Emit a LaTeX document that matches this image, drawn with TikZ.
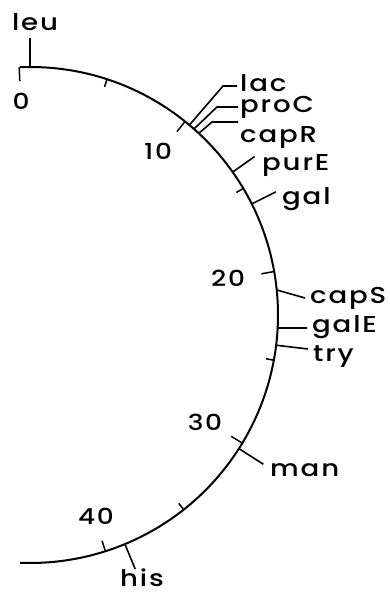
\documentclass[tikz,border=0pt]{standalone}
\usepackage{fontspec}
\setmainfont{Poppins Medium}[FakeStretch=1.2, LetterSpace=8]
\begin{document}
\begin{tikzpicture}[x=1pt,y=-1pt,
  arcline/.style={line width=2pt},
  tickline/.style={line width=1.5pt},
  geneline/.style={line width=1.6pt},
  lbl/.style={font=\fontsize{23}{23}\selectfont, inner sep=0pt, anchor=base west},
  num/.style={font=\fontsize{22}{22}\selectfont, inner sep=0pt, anchor=base}]
\useasboundingbox (0,0) rectangle (390,594);
\coordinate (C) at (30,315);
\def\R{248}
% arc
\draw[arcline] ([shift={(C)}]-92.3:\R) arc[start angle=-92.3, end angle=92.3, radius=\R];
% ticks: angle theta = -2.5 + 4.12 d, polar angle = theta - 90
\foreach \d/\len in {0/14,5/8,10/13,15/8,20/13,25/8,30/13,35/8,40/11}{
  \pgfmathsetmacro{\a}{-2.5+4.12*\d-90}
  \draw[tickline] ([shift={(C)}]\a:\R) -- ([shift={(C)}]\a:{\R-\len});
}
% number labels
\node[num] (n0) at (21,109) {0};
\node[num] (n10) at (158,159) {10};
\node[num] (n20) at (228,286) {20};
\node[num] (n30) at (205,430) {30};
\node[num] (n40) at (96,524) {40};
% gene labels
\node[lbl, anchor=base] (leu) at (35,31) {leu};
\node[lbl] (lac) at (240,91) {lac};
\node[lbl] (proC) at (240,112) {proC};
\node[lbl] (capR) at (240,142) {capR};
\node[lbl] (purE) at (262,170) {purE};
\node[lbl] (gal) at (282,204) {gal};
\node[lbl] (capS) at (310,303) {capS};
\node[lbl] (galE) at (312,332) {galE};
\node[lbl] (try) at (313,361) {try};
\node[lbl] (man) at (270,476) {man};
\node[lbl, anchor=base] (his) at (142,586) {his};
% gene connectors
\coordinate (pleu) at ([shift={(C)}]-90:\R);
\coordinate (plac) at ([shift={(C)}]-50:\R);
\coordinate (pproC) at ([shift={(C)}]-48.6:\R);
\coordinate (pcapR) at ([shift={(C)}]-47.1:\R);
\coordinate (ppurE) at ([shift={(C)}]-35.2:\R);
\coordinate (pgal) at ([shift={(C)}]-26.6:\R);
\coordinate (pcapS) at ([shift={(C)}]-5.8:\R);
\coordinate (pgalE) at ([shift={(C)}]3:\R);
\coordinate (ptry) at ([shift={(C)}]7:\R);
\coordinate (pman) at ([shift={(C)}]32.6:\R);
\coordinate (phis) at ([shift={(C)}]67.5:\R);
\draw[geneline] (pleu) -- (pleu |- 0,38);
\draw[geneline] (plac) -- (223,86) -- (237,86);
\draw[geneline] (pproC) -- (217,107) -- (238,107);
\draw[geneline] (pcapR) -- (212,122) -- (238,122);
\draw[geneline] (ppurE) -- ([shift={(C)}]-35.2:{\R+27});
\draw[geneline] (pgal) -- ([shift={(C)}]-26.6:{\R+27});
\draw[geneline] (pcapS) -- (305,298);
\draw[geneline] (pgalE) -- (307,328);
\draw[geneline] (ptry) -- (308,349);
\draw[geneline] (pman) -- ([shift={(C)}]32.6:{\R+29});
\draw[geneline] (phis) -- ([shift={(C)}]67.5:{\R+27});
\end{tikzpicture}
\end{document}
